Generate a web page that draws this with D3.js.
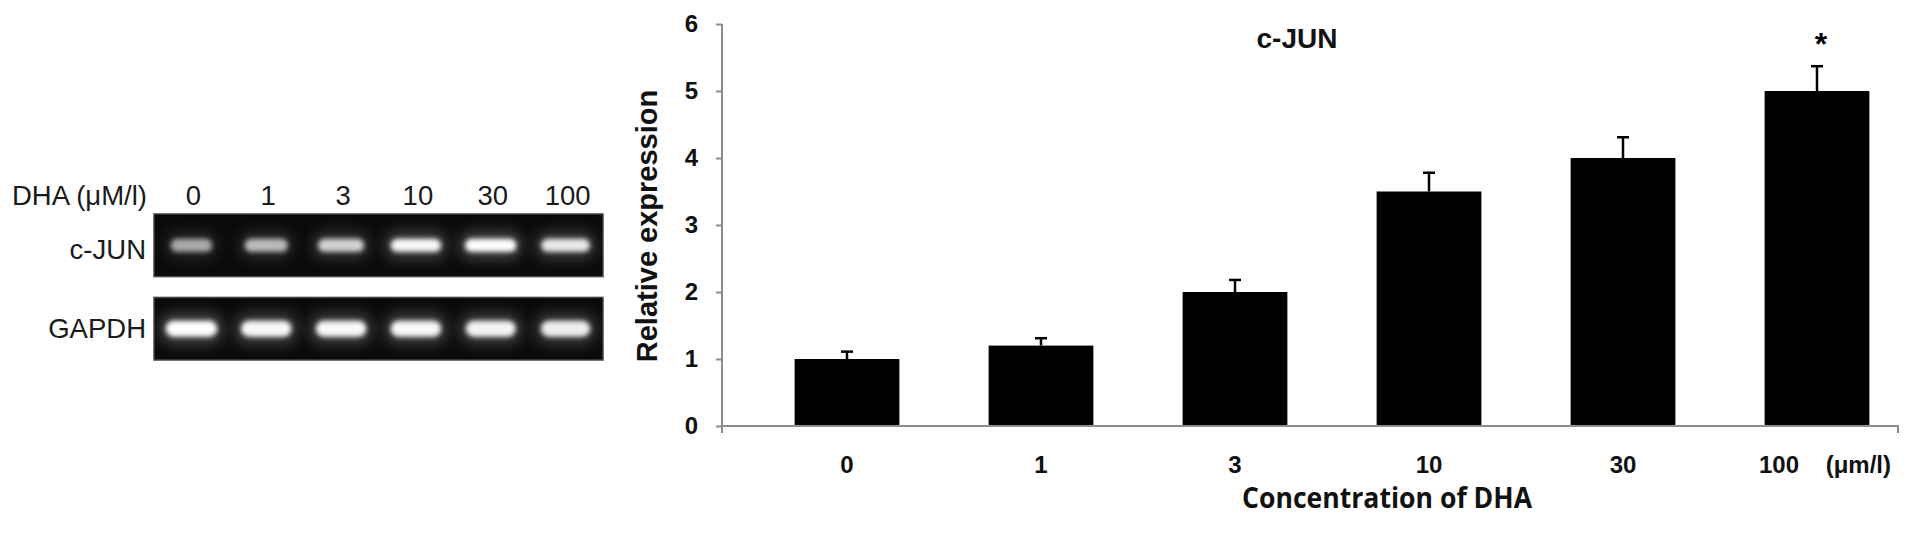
<!DOCTYPE html>
<html>
<head>
<meta charset="utf-8">
<script src="https://cdn.jsdelivr.net/npm/d3@7"></script>
<style>
	body { margin: 0; background: #fff; }
	svg { display: block; }
	.tick text { font-family: "Liberation Sans", Arial, sans-serif; font-weight: bold; fill: #111; }
</style>
</head>
<body>
<main></main>
<script>
// chart values
const concentrations = ['0', '1', '3', '10', '30', '100'];
const expression = [1.0, 1.2, 2.0, 3.5, 4.0, 5.0];
const errors = [0.11, 0.11, 0.18, 0.28, 0.31, 0.37];
const significant = [false, false, false, false, false, true];
const yTicks = [0, 1, 2, 3, 4, 5, 6];

// gel panel
const gelRows = ['c-JUN', 'GAPDH'];
const cjunBands = [0.45, 0.55, 0.7, 0.95, 1.0, 0.85];
const gapdhBands = [1.0, 0.95, 0.95, 0.95, 0.92, 0.88];
const bandIntensity = [cjunBands, gapdhBands];

const svg = d3.select('main')
	.append('svg')
	.attr('width', 1913)
	.attr('height', 548);

const defs = svg.append('defs');
defs.append('filter')
	.attr('id', 'core')
	.attr('x', '-50%').attr('y', '-150%')
	.attr('width', '200%').attr('height', '400%')
	.append('feGaussianBlur')
	.attr('stdDeviation', 2.8);
defs.append('filter')
	.attr('id', 'haze')
	.attr('x', '-50%').attr('y', '-150%')
	.attr('width', '200%').attr('height', '400%')
	.append('feGaussianBlur')
	.attr('stdDeviation', 7);

// ---------- gel image ----------
const lane = d3.scaleBand()
	.domain(concentrations)
	.range([154, 603]);

const row = d3.scaleBand()
	.domain(gelRows)
	.range([214, 360])
	.paddingInner(0.25);

const gelFont = '"Liberation Sans", Arial, sans-serif';

svg.append('text')
	.attr('x', 147)
	.attr('y', 205)
	.attr('text-anchor', 'end')
	.attr('font-family', gelFont)
	.attr('font-size', 27.5)
	.attr('fill', '#1a1a1a')
	.text('DHA (μM/l)');

svg.append('g')
	.selectAll('text')
	.data(concentrations)
	.join('text')
	.attr('x', (d) => lane(d) + lane.bandwidth() / 2 + 2)
	.attr('y', 205)
	.attr('text-anchor', 'middle')
	.attr('font-family', gelFont)
	.attr('font-size', 27.5)
	.attr('fill', '#1a1a1a')
	.text((d) => d);

gelRows.forEach((r, k) => {
	const g = svg.append('g');
	const cy = row(r) + row.bandwidth() / 2;
	const bh = k === 0 ? 13 : 16;

	g.append('rect')
		.attr('x', lane.range()[0])
		.attr('y', row(r))
		.attr('width', lane.range()[1] - lane.range()[0])
		.attr('height', row.bandwidth())
		.attr('fill', '#0a0a0a')
		.attr('stroke', '#444')
		.attr('stroke-width', 1.5);

	const bandW = (v) => lane.bandwidth() * (0.5 + 0.24 * v);

	g.selectAll('.haze')
		.data(bandIntensity[k])
		.join('rect')
		.attr('class', 'haze')
		.attr('x', (v, i) => lane(concentrations[i]) + (lane.bandwidth() - bandW(v) - 8) / 2)
		.attr('y', cy - bh / 2 - 8)
		.attr('width', (v) => bandW(v) + 8)
		.attr('height', bh + 16)
		.attr('rx', 12)
		.attr('fill', '#fff')
		.attr('opacity', (v) => 0.22 * v)
		.attr('filter', 'url(#haze)');

	g.selectAll('.core')
		.data(bandIntensity[k])
		.join('rect')
		.attr('class', 'core')
		.attr('x', (v, i) => lane(concentrations[i]) + (lane.bandwidth() - bandW(v) + 4) / 2)
		.attr('y', cy - bh / 2)
		.attr('width', (v) => bandW(v) - 4)
		.attr('height', bh)
		.attr('rx', bh / 2)
		.attr('fill', '#fff')
		.attr('opacity', (v) => 0.3 + 0.7 * v)
		.attr('filter', 'url(#core)');

	svg.append('text')
		.attr('x', 146)
		.attr('y', cy + (k === 0 ? 4 : 0))
		.attr('dy', '0.35em')
		.attr('text-anchor', 'end')
		.attr('font-family', gelFont)
		.attr('font-size', 27.5)
		.attr('fill', '#1a1a1a')
		.text(r);
});

// ---------- bar chart ----------
const plotLeft = 722;
const plotRight = 1898;
const axisColor = '#8d8d8d';

const yScale = d3.scaleLinear()
	.domain([0, 6])
	.range([426, 24]);

const xScale = d3.scaleBand()
	.domain(concentrations)
	.range([750, 1914])
	.paddingInner(0.46)
	.paddingOuter(0.23);

const data = concentrations.map((c, i) => ({
	conc: c,
	value: expression[i],
	err: errors[i],
	sig: significant[i]
}));

// y axis
const yAxis = svg.append('g')
	.attr('transform', `translate(${plotLeft}, 0)`)
	.call(d3.axisLeft(yScale)
		.tickValues(yTicks)
		.tickFormat(d3.format('d'))
		.tickSize(6)
		.tickPadding(18));
yAxis.select('.domain').remove();
yAxis.selectAll('.tick line').attr('stroke', axisColor).attr('stroke-width', 2);
yAxis.selectAll('.tick text').attr('font-size', 24);

svg.append('line')
	.attr('x1', plotLeft).attr('x2', plotLeft)
	.attr('y1', yScale(6)).attr('y2', yScale(0) + 7)
	.attr('stroke', axisColor)
	.attr('stroke-width', 2);

// bars
svg.append('g')
	.selectAll('rect')
	.data(data)
	.join('rect')
	.attr('x', (d) => xScale(d.conc))
	.attr('y', (d) => yScale(d.value))
	.attr('width', xScale.bandwidth())
	.attr('height', (d) => yScale(0) - yScale(d.value))
	.attr('fill', '#000');

// error bars
const eb = svg.append('g')
	.selectAll('g')
	.data(data)
	.join('g')
	.attr('stroke', '#000')
	.attr('stroke-width', 2.5);
eb.append('line')
	.attr('x1', (d) => xScale(d.conc) + xScale.bandwidth() / 2)
	.attr('x2', (d) => xScale(d.conc) + xScale.bandwidth() / 2)
	.attr('y1', (d) => yScale(d.value))
	.attr('y2', (d) => yScale(d.value + d.err));
eb.append('line')
	.attr('x1', (d) => xScale(d.conc) + xScale.bandwidth() / 2 - 6)
	.attr('x2', (d) => xScale(d.conc) + xScale.bandwidth() / 2 + 6)
	.attr('y1', (d) => yScale(d.value + d.err))
	.attr('y2', (d) => yScale(d.value + d.err));

// x axis
const xAxis = svg.append('g')
	.attr('transform', `translate(0, ${yScale(0)})`)
	.call(d3.axisBottom(xScale)
		.tickSize(0)
		.tickPadding(30)
		.tickFormat((d) => d === '100' ? '100\u00a0\u00a0\u00a0\u00a0(μm/l)' : d));
xAxis.select('.domain').remove();
xAxis.selectAll('.tick text').attr('font-size', 24);
xAxis.selectAll('.tick text').filter((d) => d === '100').attr('dx', 8);

svg.append('path')
	.attr('d', `M${plotLeft},${yScale(0)}H${plotRight}V${yScale(0) + 7}`)
	.attr('fill', 'none')
	.attr('stroke', axisColor)
	.attr('stroke-width', 2);

// significance mark
svg.append('g')
	.selectAll('text')
	.data(data.filter((d) => d.sig))
	.join('text')
	.attr('x', (d) => xScale(d.conc) + xScale.bandwidth() / 2 + 4)
	.attr('y', (d) => yScale(d.value + d.err) - 11)
	.attr('text-anchor', 'middle')
	.attr('font-family', gelFont)
	.attr('font-weight', 'bold')
	.attr('font-size', 32)
	.text('*');

// titles
svg.append('text')
	.attr('x', 1297)
	.attr('y', 48)
	.attr('text-anchor', 'middle')
	.attr('font-family', gelFont)
	.attr('font-weight', 'bold')
	.attr('font-size', 28)
	.attr('fill', '#111')
	.text('c-JUN');

svg.append('text')
	.attr('transform', 'translate(657, 226) rotate(-90)')
	.attr('text-anchor', 'middle')
	.attr('font-family', gelFont)
	.attr('font-weight', 'bold')
	.attr('font-size', 29)
	.attr('fill', '#111')
	.text('Relative expression');

svg.append('text')
	.attr('x', 1387)
	.attr('y', 508)
	.attr('text-anchor', 'middle')
	.attr('font-family', '"Open Sans", Lato, sans-serif')
	.attr('font-weight', 700)
	.attr('font-size', 29)
	.attr('textLength', 290)
	.attr('lengthAdjust', 'spacingAndGlyphs')
	.attr('fill', '#111')
	.text('Concentration of DHA');
</script>
</body>
</html>
